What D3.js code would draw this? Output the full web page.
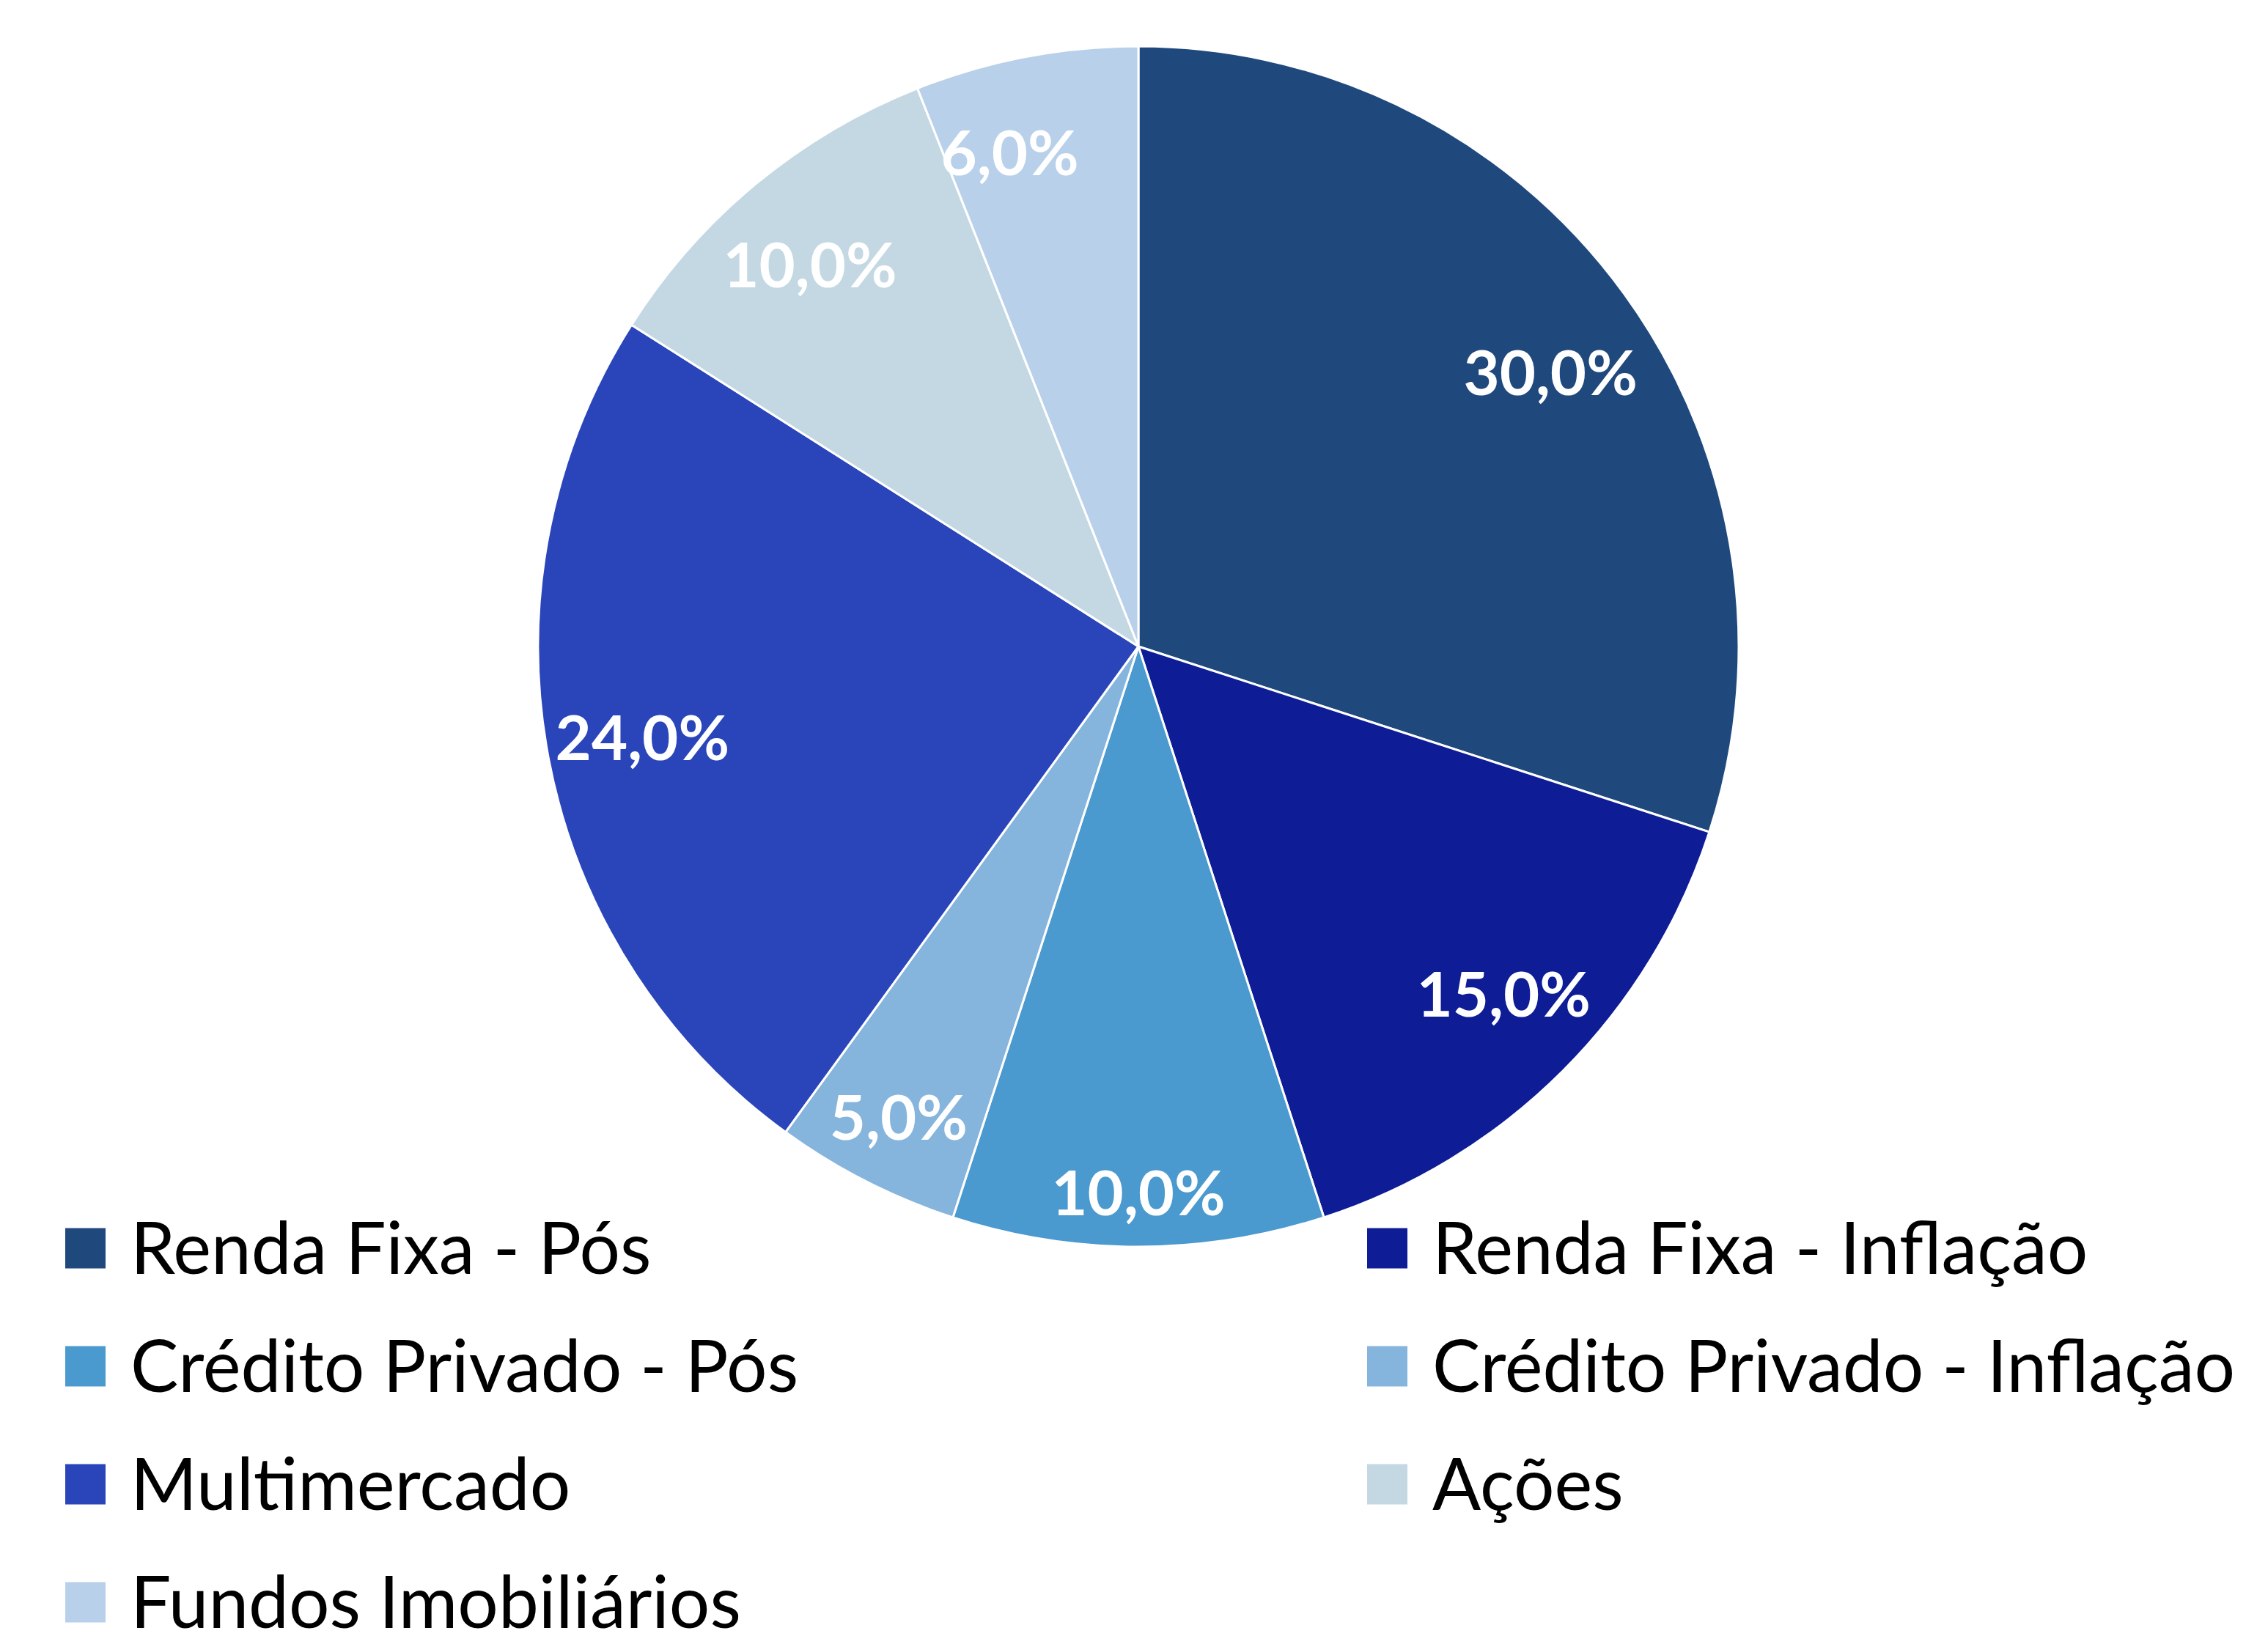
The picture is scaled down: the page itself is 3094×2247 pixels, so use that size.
<!doctype html>
<html lang="pt">
<head>
  <meta charset="utf-8">
  <style>
    body { margin: 0; background: #fff; }
    text { font-family: Lato, "Open Sans", sans-serif; }
  </style>
</head>
<body>
  <script src="https://d3js.org/d3.v7.min.js"></script>
  <div id="chart"></div>
  <script>
    // data
    var categories = ["Renda Fixa - Pós", "Renda Fixa - Inflação", "Crédito Privado - Pós",
                      "Crédito Privado - Inflação", "Multimercado", "Ações", "Fundos Imobiliários"];
    var values = [30, 15, 10, 5, 24, 10, 6];
    var colors = ["#1F497D", "#0E1C95", "#4A99CF", "#85B4DC", "#2A45BA", "#C4D8E3", "#B9D0EA"];
    // label placement tweaks (share of radius, angle shift in degrees) - excel best-fit look
    var labelRadius = [0.824, 0.84, 0.91, 0.88, 0.84, 0.839, 0.85];
    var labelShift = [2.4, -1.4, 0, 0, 0.4, -1.1, -3.8];

    var width = 3094, height = 2247;
    var cx = 1553, cy = 882, r = 819;

    var svg = d3.select("#chart").append("svg")
        .attr("width", width)
        .attr("height", height);

    var pie = d3.pie().sort(null).value(function(d) { return d; });
    var arcs = pie(values);
    var arc = d3.arc().innerRadius(0).outerRadius(r);

    var g = svg.append("g").attr("transform", "translate(" + cx + "," + cy + ")");

    g.selectAll("path")
      .data(arcs)
      .enter().append("path")
      .attr("d", arc)
      .attr("fill", function(d, i) { return colors[i]; })
      .attr("stroke", "#fff")
      .attr("stroke-width", 3)
      .attr("stroke-linejoin", "round");

    var fmt = function(v) { return v.toFixed(1).replace(".", ",") + "%"; };

    g.selectAll("text.lbl")
      .data(arcs)
      .enter().append("text")
      .attr("class", "lbl")
      .attr("transform", function(d, i) {
        var a = (d.startAngle + d.endAngle) / 2 + labelShift[i] * Math.PI / 180;
        var rr = r * labelRadius[i];
        return "translate(" + (rr * Math.sin(a)) + "," + (-rr * Math.cos(a)) + ")";
      })
      .attr("text-anchor", "middle")
      .attr("dy", "0.36em")
      .attr("fill", "#fff")
      .attr("font-weight", "bold")
      .attr("font-size", 85)
      .text(function(d) { return fmt(d.value); });

    // legend, two columns
    var colX = [89, 1865], row0 = 1703, rowStep = 161, sw = 55;
    var leg = svg.append("g").attr("class", "legend");
    var item = leg.selectAll("g")
      .data(categories)
      .enter().append("g")
      .attr("transform", function(d, i) {
        return "translate(" + colX[i % 2] + "," + (row0 + Math.floor(i / 2) * rowStep) + ")";
      });
    item.append("rect")
      .attr("x", 0).attr("y", -sw / 2)
      .attr("width", sw).attr("height", sw)
      .attr("fill", function(d, i) { return colors[i]; });
    item.append("text")
      .attr("x", 89)
      .attr("dy", "0.36em")
      .attr("font-size", 98)
      .attr("fill", "#000")
      .text(function(d) { return d; });
  </script>
</body>
</html>
